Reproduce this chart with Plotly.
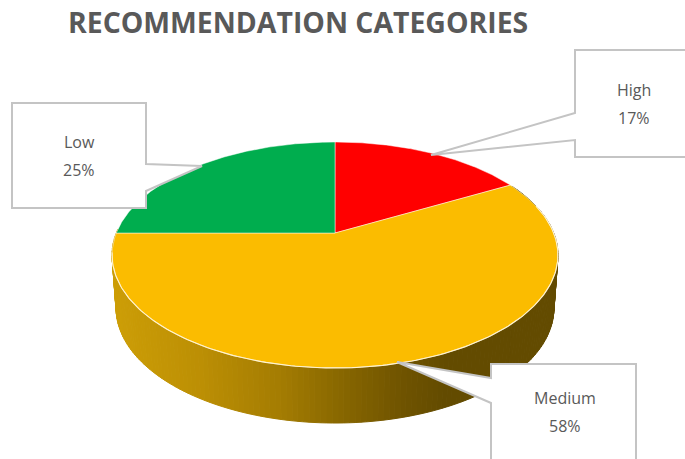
import numpy as np
import plotly.graph_objects as go

# Recommendation shares, clockwise from twelve o'clock
categories = ["High", "Medium", "Low"]
shares = [17, 58, 25]
slice_colors = ["#FF0000", "#FBBC00", "#00AD4E"]
chart_title = "RECOMMENDATION CATEGORIES"

WIDTH, HEIGHT = 685, 459
TEXT = "#595959"
BORDER = "#C4C4C4"

# Perspective camera for the tilted disc
CX, CY = 335.0, 233.0
RX, RY, TILT = 218.7, 108.7, 0.1947
DEPTH, BASE_SX, BASE_SY = 52.6, 0.982, 1.018


def rim(theta, base=False):
    """Screen position of a rim point; theta is clockwise from the far side."""
    x, y = np.sin(theta), np.cos(theta)
    w = 1 + TILT * y
    px, py = RX * x / w, -RY * y / w
    if base:
        return CX + BASE_SX * px, CY + DEPTH + BASE_SY * py
    return CX + px, CY + py


def wall_color(x):
    """Horizontal shading of the front wall, gold at the left to deep brown."""
    stops_x = [112, 200, 280, 340, 400, 445, 560]
    stops_rgb = np.array([
        [205, 158, 6], [188, 143, 4], [164, 124, 2], [136, 103, 0],
        [112, 84, 0], [99, 75, 0], [99, 75, 0],
    ], dtype=float)
    rgb = [np.interp(x, stops_x, stops_rgb[:, i]) for i in range(3)]
    return "rgb({:.0f},{:.0f},{:.0f})".format(*rgb)


fig = go.Figure()

# Front wall: narrow quads between the top rim and the base rim
edges = np.radians(np.linspace(62, 272, 171))
for a, b in zip(edges[:-1], edges[1:]):
    x0, y0 = rim(a)
    x1, y1 = rim(b)
    x2, y2 = rim(b, base=True)
    x3, y3 = rim(a, base=True)
    color = wall_color((x0 + x1 + x2 + x3) / 4)
    fig.add_trace(go.Scatter(
        x=[x0, x1, x2, x3, x0], y=[y0, y1, y2, y3, y0], mode="lines",
        fill="toself", fillcolor=color, line=dict(color=color, width=1),
        hoverinfo="skip", showlegend=False,
    ))

# Top face: one wedge per category, sized from its share
total = sum(shares)
start = 0.0
for name, share, color in zip(categories, shares, slice_colors):
    stop = start + share / total * 2 * np.pi
    ts = np.linspace(start, stop, 160)
    rx, ry = rim(ts)
    fig.add_trace(go.Scatter(
        x=np.r_[CX, rx, CX], y=np.r_[CY, ry, CY], mode="lines",
        fill="toself", fillcolor=color,
        line=dict(color="rgba(255,255,255,0.6)", width=0.8),
        name=name, text=f"{name}: {share}%", hoverinfo="text", showlegend=False,
    ))
    start = stop

# Bright edge along the visible front of the top face
ts = np.radians(np.linspace(75, 260, 200))
rx, ry = rim(ts)
fig.add_trace(go.Scatter(
    x=rx, y=ry, mode="lines", line=dict(color="#FFF3D0", width=1.1),
    hoverinfo="skip", showlegend=False,
))


def callout(left, top, right, bottom, side, near, far, tip):
    """Rectangle with a pointer leaving one of its vertical sides."""
    if side == "left":
        pts = [(left, top), (right, top), (right, bottom), (left, bottom),
               (left, far), tip, (left, near)]
    else:
        pts = [(left, top), (right, top), (right, near), tip, (right, far),
               (right, bottom), (left, bottom)]
    path = "M " + " L ".join(f"{x},{y}" for x, y in pts) + " Z"
    return dict(type="path", path=path, xref="x", yref="y", layer="above",
                fillcolor="white", line=dict(color=BORDER, width=2))


shapes = [
    callout(12, 103, 146, 208, "right", 164, 191, (202, 166)),
    callout(575, 50, 700, 157, "left", 113, 140, (431, 155)),
    callout(491, 364, 636, 470, "left", 378, 403, (397, 362)),
]

# Label text: category name over its percentage
label_centres = [(634, 90), (565, 398), (79, 142)]
annotations = []
for (name, share), (lx, ly) in zip(zip(categories, shares), label_centres):
    for line, y in ((name, ly), (f"{share}%", ly + 28)):
        annotations.append(dict(
            x=lx, y=y, xref="x", yref="y", text=line, showarrow=False,
            font=dict(family="Open Sans", size=16, color=TEXT),
            xanchor="center", yanchor="middle",
        ))
annotations.append(dict(
    x=297.5, y=22, xref="x", yref="y", text=f"<b>{chart_title}</b>", showarrow=False,
    font=dict(family="Open Sans", size=28.4, color=TEXT),
    xanchor="center", yanchor="middle",
))

fig.update_layout(
    width=WIDTH, height=HEIGHT, margin=dict(l=0, r=0, t=0, b=0),
    paper_bgcolor="white", plot_bgcolor="white", showlegend=False,
    shapes=shapes, annotations=annotations,
    xaxis=dict(range=[0, WIDTH], visible=False, fixedrange=True),
    yaxis=dict(range=[HEIGHT, 0], visible=False, fixedrange=True),
)

fig.write_html("out.html", config=dict(displayModeBar=False))
